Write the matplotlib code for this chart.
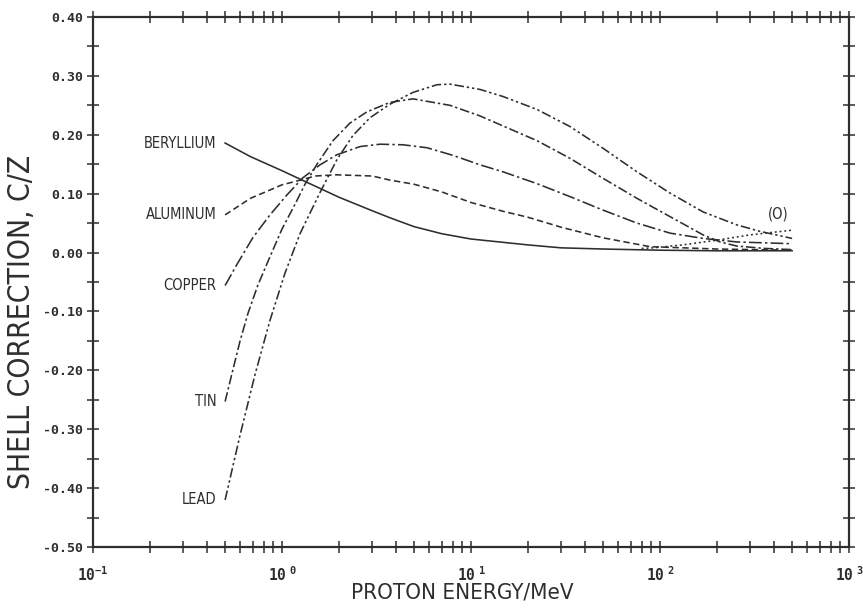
import numpy as np
import matplotlib
matplotlib.use('Agg')
import matplotlib.pyplot as plt
from matplotlib.ticker import FixedLocator, LogLocator, MultipleLocator, NullFormatter

# ---------------- data ----------------
be_E = [0.5, 0.68, 1.0, 1.28, 2.0, 3.0, 3.73, 5, 7, 10, 20, 30, 50, 100, 200, 500]
be_v = [0.186, 0.163, 0.139, 0.123, 0.094, 0.071, 0.059, 0.044, 0.032, 0.023,
        0.013, 0.008, 0.006, 0.004, 0.003, 0.003]

al_E = [0.5, 0.68, 1.0, 1.25, 1.5, 1.95, 3.0, 3.73, 5, 7, 10, 14.8, 20, 30, 50,
        88.5, 200, 500]
al_v = [0.064, 0.092, 0.115, 0.123, 0.130, 0.132, 0.130, 0.123, 0.116, 0.103,
        0.085, 0.070, 0.060, 0.043, 0.025, 0.010, 0.006, 0.004]

cu_E = [0.5, 0.578, 0.70, 0.864, 1.063, 1.29, 1.59, 1.95, 2.59, 3.3, 4.37, 5.85,
        8.03, 11.16, 14.8, 22.35, 33.4, 50, 75.6, 113, 169, 255, 500]
cu_v = [-0.056, -0.020, 0.025, 0.064, 0.098, 0.127, 0.149, 0.166, 0.180, 0.184,
        0.183, 0.178, 0.165, 0.149, 0.137, 0.117, 0.095, 0.072, 0.050, 0.033,
        0.024, 0.018, 0.015]

sn_E = [0.5, 0.544, 0.60, 0.661, 0.746, 0.843, 1.0, 1.172, 1.323, 1.532, 1.861,
        2.29, 2.817, 3.728, 4.933, 7.74, 11.16, 14.77, 22.35, 33.4, 50, 75.6,
        113, 169, 208, 255, 359, 500]
sn_v = [-0.253, -0.205, -0.150, -0.103, -0.055, -0.015, 0.040, 0.082, 0.116,
        0.150, 0.190, 0.220, 0.239, 0.255, 0.261, 0.250, 0.232, 0.215, 0.190,
        0.160, 0.126, 0.092, 0.061, 0.030, 0.018, 0.011, 0.007, 0.005]

pb_E = [0.5, 0.6, 0.72, 0.864, 1.037, 1.245, 1.589, 1.954, 2.375, 2.922, 3.728,
        4.933, 6.61, 7.74, 11.16, 14.77, 22.35, 33.4, 50, 75.6, 113, 169, 255,
        338, 500]
pb_v = [-0.420, -0.310, -0.207, -0.115, -0.035, 0.032, 0.102, 0.158, 0.199,
        0.229, 0.252, 0.272, 0.285, 0.286, 0.277, 0.265, 0.243, 0.214, 0.177,
        0.137, 0.101, 0.069, 0.047, 0.036, 0.024]

o_E = [80, 91.8, 132, 200, 299, 500]
o_v = [0.007, 0.008, 0.013, 0.021, 0.030, 0.038]

curve_labels = ['BERYLLIUM', 'ALUMINUM', 'COPPER', 'TIN', 'LEAD']
label_E = 0.45
o_label = '(O)'
o_label_pos = (420, 0.065)

yticks = [0.40, 0.30, 0.20, 0.10, 0.00, -0.10, -0.20, -0.30, -0.40, -0.50]
ytick_labels = ['0.40', '0.30', '0.20', '0.10', '0.00', '-0.10', '-0.20',
                '-0.30', '-0.40', '-0.50']
xticks = [0.1, 1, 10, 100, 1000]
xtick_labels = [r'$\mathbf{10^{-1}}$', r'$\mathbf{10^{\ 0}}$', r'$\mathbf{10^{\ 1}}$',
                r'$\mathbf{10^{\ 2}}$', r'$\mathbf{10^{\ 3}}$']
xlabel = 'PROTON ENERGY/MeV'
ylabel = 'SHELL CORRECTION, C/Z'

# ---------------- style ----------------
ink = '#2e2e2e'
plt.rcParams['mathtext.fontset'] = 'custom'
plt.rcParams['mathtext.bf'] = 'DejaVu Sans Mono:bold'
plt.rcParams['mathtext.rm'] = 'DejaVu Sans Mono'

txt = dict(family='DejaVu Sans', fontstretch='condensed', color=ink)

fig = plt.figure(figsize=(8.63, 6.13), dpi=100)
ax = fig.add_axes([93/863, 66/613, 756/863, 530/613])
ax.set_xscale('log')
ax.set_xlim(0.1, 1000)
ax.set_ylim(-0.5, 0.4)

lw = 1.15
ax.plot(be_E, be_v, color=ink, lw=lw, ls='-')
ax.plot(al_E, al_v, color=ink, lw=lw, ls=(0, (4, 2.2)))
ax.plot(cu_E, cu_v, color=ink, lw=lw, ls=(0, (8, 2, 1.5, 2)))
ax.plot(sn_E, sn_v, color=ink, lw=lw, ls=(0, (6, 1.8, 1.5, 1.8)))
ax.plot(pb_E, pb_v, color=ink, lw=lw, ls=(0, (6, 1.8, 1.5, 1.8, 1.5, 1.8)))
ax.plot(o_E, o_v, color=ink, lw=lw, ls=(0, (1.2, 1.8)))

starts = [be_v[0], al_v[0], cu_v[0], sn_v[0], pb_v[0]]
for lab, yv in zip(curve_labels, starts):
    ax.text(label_E, yv, lab, ha='right', va='center', fontsize=10.5, **txt)
ax.text(o_label_pos[0], o_label_pos[1], o_label, ha='center', va='center',
        fontsize=10.5, **txt)

for s in ax.spines.values():
    s.set_linewidth(1.6)
    s.set_color(ink)

ax.yaxis.set_major_locator(FixedLocator(yticks))
ax.set_yticklabels(ytick_labels)
ax.yaxis.set_minor_locator(MultipleLocator(0.05))
ax.set_xticks(xticks)
ax.set_xticklabels(xtick_labels)
ax.xaxis.set_minor_locator(LogLocator(base=10, subs=np.arange(2, 10)))
ax.xaxis.set_minor_formatter(NullFormatter())

ax.tick_params(which='both', direction='inout', length=8, width=1.1,
               color=ink, top=True, right=True)
ax.tick_params(axis='y', labelsize=9.5, pad=3)
ax.tick_params(axis='x', labelsize=10.5, pad=9)
for t in ax.get_yticklabels():
    t.set_family('DejaVu Sans Mono')
    t.set_fontweight('bold')
    t.set_color(ink)
for t in ax.get_xticklabels():
    t.set_color(ink)

fig.text(462/863, 1 - 592/613, xlabel, ha='center', va='center',
         fontsize=16, **txt)
fig.text(22/863, 1 - 322/613, ylabel, ha='center', va='center', rotation=90,
         fontsize=21.5, **txt)

fig.savefig('out.png', dpi=100)
